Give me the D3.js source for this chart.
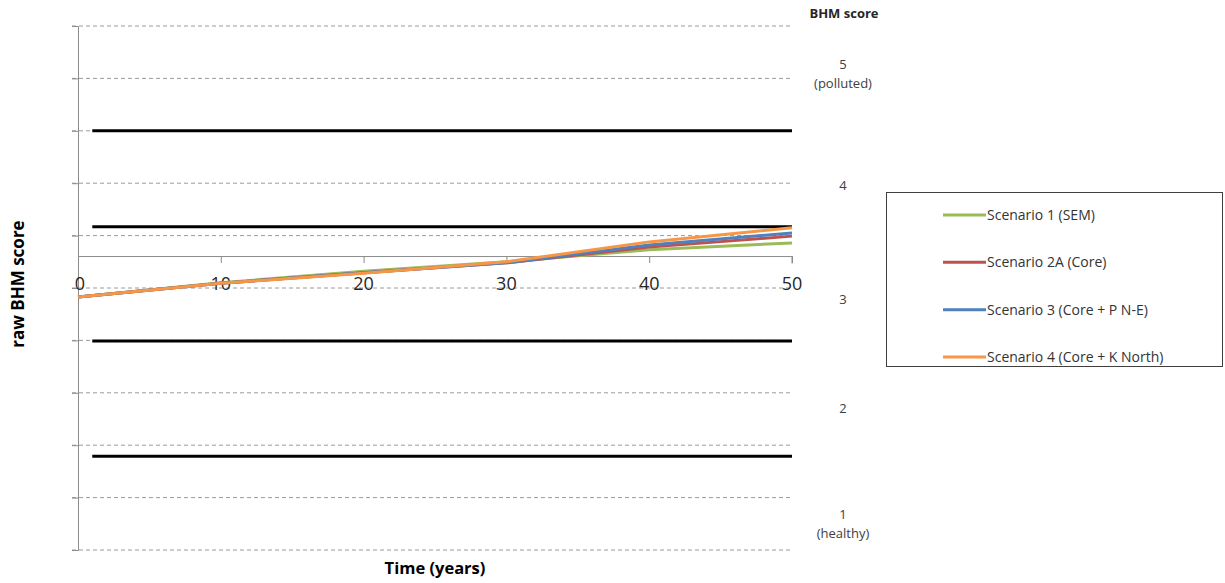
<!DOCTYPE html>
<html>
<head>
<meta charset="utf-8">
<script src="https://cdn.jsdelivr.net/npm/d3@7"></script>
<style>
  html, body { margin: 0; padding: 0; background: #fff; }
  svg { display: block; font-family: "Open Sans", "Noto Sans", sans-serif; }
</style>
</head>
<body>
<svg id="chart" width="1225" height="583"></svg>
<script>
// ---- data ----
const years = [0, 10, 20, 30, 40, 50];
const scenario1 = [4.83, 5.10, 5.32, 5.50, 5.73, 5.86];
const scenario2A = [4.83, 5.09, 5.29, 5.48, 5.78, 5.99];
const scenario3 = [4.83, 5.09, 5.29, 5.48, 5.82, 6.05];
const scenario4 = [4.83, 5.09, 5.28, 5.50, 5.88, 6.15];
const seriesNames = ["Scenario 1 (SEM)", "Scenario 2A (Core)", "Scenario 3 (Core + P N-E)", "Scenario 4 (Core + K North)"];
const seriesColors = ["#9BBB59", "#C0504D", "#4F81BD", "#F79646"];
const classBoundaries = [8.0, 6.17, 3.99, 1.79];
const boundaryYears = [1, 50];
const xTicks = [0, 10, 20, 30, 40, 50];
const yTicks = [0, 1, 2, 3, 4, 5, 6, 7, 8, 9, 10];
const xAxisCrossing = 5.61;
const bhmLabels = [
  { lines: ["5", "(polluted)"], value: 9.08 },
  { lines: ["4"], value: 6.95 },
  { lines: ["3"], value: 4.78 },
  { lines: ["2"], value: 2.70 },
  { lines: ["1", "(healthy)"], value: 0.50 }
];

// ---- scales ----
const svg = d3.select("#chart");
const x = d3.scaleLinear().domain([0, 50]).range([78, 792]);
const y = d3.scaleLinear().domain([0, 10]).range([550, 26]);

// gridlines
svg.append("g").selectAll("line").data(yTicks).join("line")
  .attr("x1", 72).attr("x2", x(50))
  .attr("y1", d => y(d)).attr("y2", d => y(d))
  .attr("stroke", "#9a9a9a").attr("stroke-width", 1)
  .attr("stroke-dasharray", "4,3");

// y axis
const yAxis = svg.append("g").attr("transform", `translate(${x(0)},0)`)
  .call(d3.axisLeft(y).tickValues(yTicks).tickSize(6).tickFormat(""));
yAxis.select(".domain").attr("stroke", "#8c8c8c");
yAxis.selectAll(".tick line").attr("stroke", "#8c8c8c");

// x axis
const xAxis = svg.append("g").attr("transform", `translate(0,${y(xAxisCrossing)})`)
  .call(d3.axisBottom(x).tickValues(xTicks).tickSize(7).tickFormat(""));
xAxis.select(".domain").attr("stroke", "#8c8c8c").attr("d", `M${x(0)},0.5H${x(50)}V7.5`);
xAxis.selectAll(".tick line").attr("stroke", "#8c8c8c");

// class boundary lines
svg.append("g").selectAll("line").data(classBoundaries).join("line")
  .attr("x1", x(boundaryYears[0])).attr("x2", x(boundaryYears[1]))
  .attr("y1", d => y(d)).attr("y2", d => y(d))
  .attr("stroke", "#000").attr("stroke-width", 3);

// x tick labels
svg.append("g").selectAll("text").data(xTicks).join("text")
  .attr("x", d => x(d) + (d === 0 ? 2 : 0)).attr("y", 290)
  .attr("text-anchor", "middle")
  .attr("font-size", 18).attr("fill", "#262626")
  .text(d => d);

// series lines
const allSeries = [scenario1, scenario2A, scenario3, scenario4];
const line = d3.line().x((d, i) => x(years[i])).y(d => y(d));
svg.append("g").selectAll("path").data(allSeries).join("path")
  .attr("d", d => line(d))
  .attr("fill", "none")
  .attr("stroke", (d, i) => seriesColors[i])
  .attr("stroke-width", 3)
  .attr("stroke-linejoin", "round");

// right-hand BHM score labels
svg.append("text").attr("x", 844).attr("y", 18)
  .attr("text-anchor", "middle").attr("font-size", 13).attr("font-weight", "bold")
  .attr("fill", "#262626").text("BHM score");
const bl = svg.append("g").selectAll("text").data(bhmLabels).join("text")
  .attr("text-anchor", "middle").attr("font-size", 13).attr("fill", "#404040")
  .attr("x", 843)
  .attr("y", d => y(d.value) - (d.lines.length - 1) * 9 + 4);
bl.selectAll("tspan").data(d => d.lines).join("tspan")
  .attr("x", 843).attr("dy", (d, i) => i === 0 ? 0 : 19).text(d => d);

// axis titles
svg.append("text").attr("x", 435).attr("y", 574)
  .attr("text-anchor", "middle").attr("font-size", 16.5).attr("font-weight", "bold")
  .attr("fill", "#000").text("Time (years)");
svg.append("text").attr("transform", "translate(24,284) rotate(-90)")
  .attr("text-anchor", "middle").attr("font-size", 17).attr("font-weight", "bold")
  .attr("fill", "#000").text("raw BHM score");

// legend
const legend = svg.append("g");
legend.append("rect").attr("x", 886.5).attr("y", 192.5).attr("width", 336).attr("height", 174)
  .attr("fill", "#fff").attr("stroke", "#404040").attr("stroke-width", 1);
const legendRowY = d3.scalePoint().domain(seriesNames).range([215, 357]);
const items = legend.selectAll("g.item").data(seriesNames).join("g")
  .attr("class", "item")
  .attr("transform", d => `translate(0,${legendRowY(d)})`);
items.append("line").attr("x1", 943).attr("x2", 986).attr("y1", 0).attr("y2", 0)
  .attr("stroke", (d, i) => seriesColors[i]).attr("stroke-width", 3);
items.append("text").attr("x", 987).attr("y", 5)
  .attr("font-size", 14).attr("fill", "#333").text(d => d);
</script>
</body>
</html>
